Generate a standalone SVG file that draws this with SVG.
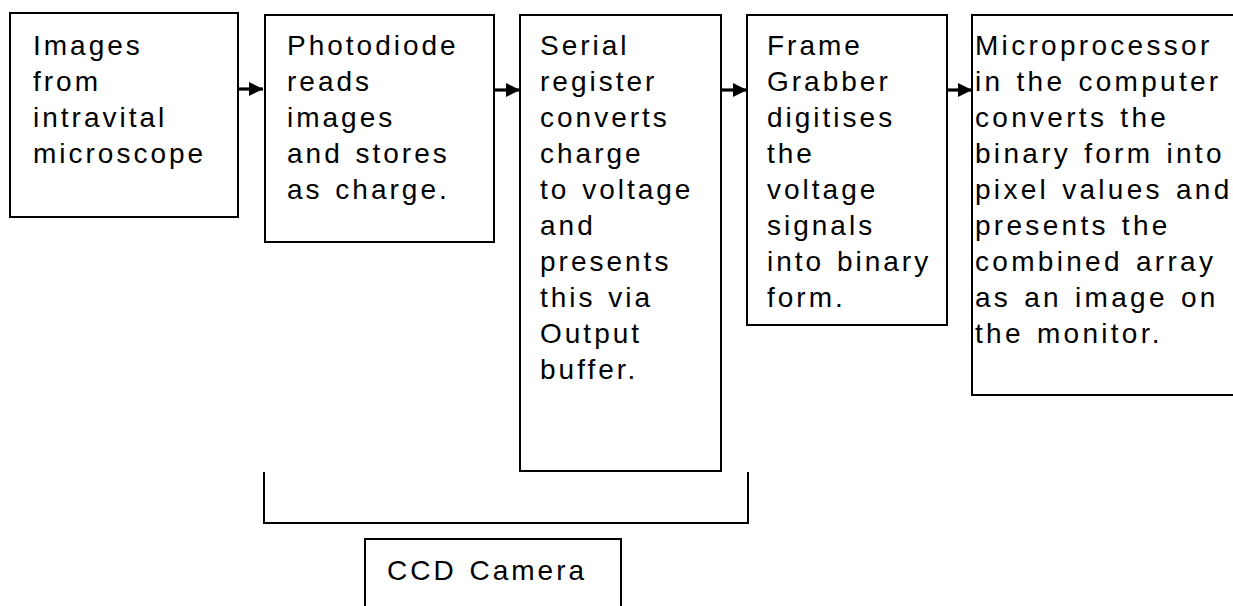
<svg xmlns="http://www.w3.org/2000/svg" width="1233" height="606" viewBox="0 0 1233 606">
<style>
.box{fill:#fff;stroke:#000;stroke-width:2}
.t{font-family:"Liberation Sans",Arial,sans-serif;font-size:28px;letter-spacing:3px;word-spacing:2px;fill:#000}
.w{letter-spacing:3.3px}
.c{fill:none;stroke:#000;stroke-width:3.2}
.br{fill:none;stroke:#000;stroke-width:2}
</style>
<defs>
<marker id="ah" viewBox="0 0 10 10" refX="10" refY="5" markerWidth="4.4" markerHeight="4.4" markerUnits="strokeWidth" orient="auto">
<path d="M0,0 L10,5 L0,10 z" fill="#000"/>
</marker>
</defs>
<g id="connectors">
<line class="c" x1="236" y1="89" x2="263" y2="89" marker-end="url(#ah)"/>
<line class="c" x1="492" y1="90" x2="520" y2="90" marker-end="url(#ah)"/>
<line class="c" x1="719" y1="90" x2="747" y2="90" marker-end="url(#ah)"/>
<line class="c" x1="945" y1="90" x2="972" y2="90" marker-end="url(#ah)"/>
<path class="br" d="M264,472 V523 H748 V472"/>
</g>
<g id="n1">
<rect class="box" x="10" y="13" width="228" height="204"/>
<text class="t" x="33" y="55">Images</text>
<text class="t" x="33" y="91">from</text>
<text class="t" x="33" y="127">intravital</text>
<text class="t" x="33" y="163">microscope</text>
</g>
<g id="n2">
<rect class="box" x="265" y="15" width="229" height="227"/>
<text class="t" x="287" y="55">Photodiode</text>
<text class="t" x="287" y="91">reads</text>
<text class="t" x="287" y="127">images</text>
<text class="t" x="287" y="163">and stores</text>
<text class="t" x="287" y="199">as charge.</text>
</g>
<g id="n3">
<rect class="box" x="520" y="15" width="201" height="456"/>
<text class="t" x="540" y="55">Serial</text>
<text class="t" x="540" y="91">register</text>
<text class="t" x="540" y="127">converts</text>
<text class="t" x="540" y="163">charge</text>
<text class="t" x="540" y="199">to voltage</text>
<text class="t" x="540" y="235">and</text>
<text class="t" x="540" y="271">presents</text>
<text class="t" x="540" y="307">this via</text>
<text class="t" x="540" y="343">Output</text>
<text class="t" x="540" y="379">buffer.</text>
</g>
<g id="n4">
<rect class="box" x="747" y="15" width="200" height="310"/>
<text class="t" x="767" y="55">Frame</text>
<text class="t" x="767" y="91">Grabber</text>
<text class="t" x="767" y="127">digitises</text>
<text class="t" x="767" y="163">the</text>
<text class="t" x="767" y="199">voltage</text>
<text class="t" x="767" y="235">signals</text>
<text class="t" x="767" y="271">into binary</text>
<text class="t" x="767" y="307">form.</text>
</g>
<g id="n5">
<rect class="box" x="972" y="15" width="270" height="380"/>
<text class="t w" x="975" y="55">Microprocessor</text>
<text class="t w" x="975" y="91">in the computer</text>
<text class="t w" x="975" y="127">converts the</text>
<text class="t w" x="975" y="163">binary form into</text>
<text class="t w" x="975" y="199">pixel values and</text>
<text class="t w" x="975" y="235">presents the</text>
<text class="t w" x="975" y="271">combined array</text>
<text class="t w" x="975" y="307">as an image on</text>
<text class="t w" x="975" y="343">the monitor.</text>
</g>
<g id="ccd">
<rect class="box" x="365" y="539" width="256" height="80"/>
<text class="t" x="387" y="580">CCD Camera</text>
</g>
</svg>
